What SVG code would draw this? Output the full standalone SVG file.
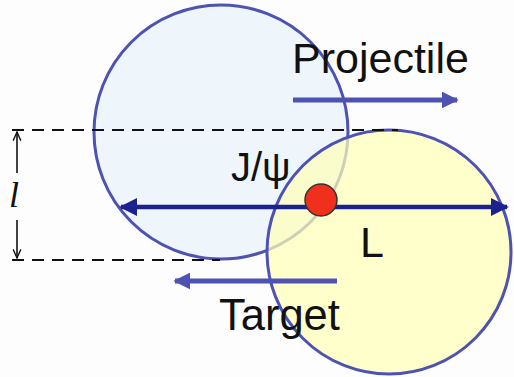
<svg xmlns="http://www.w3.org/2000/svg" width="514" height="377" viewBox="0 0 514 377">
<style>
.txt{font-family:"Liberation Sans",Arial,sans-serif;fill:#111}
.dash{stroke:#111;stroke-width:2;stroke-dasharray:12,8;fill:none}
.ring{stroke:#4d52b3;stroke-width:3}
</style>
<defs>
<marker id="nav" viewBox="0 0 10 10" refX="9" refY="5" markerWidth="4" markerHeight="4" orient="auto-start-reverse" markerUnits="strokeWidth">
<path d="M0,0 L10,5 L0,10 Z" fill="#1c2190"/>
</marker>
<marker id="blu" viewBox="0 0 10 10" refX="9" refY="5" markerWidth="3.4" markerHeight="3.4" orient="auto-start-reverse" markerUnits="strokeWidth">
<path d="M0,0 L10,5 L0,10 Z" fill="#4d52b3"/>
</marker>
<marker id="thin" viewBox="0 0 10 10" refX="9" refY="5" markerWidth="6" markerHeight="8" orient="auto" markerUnits="strokeWidth">
<path d="M0,1 L9,5 L0,9" fill="none" stroke="#111" stroke-width="1.4"/>
</marker>
</defs>
<rect width="514" height="377" fill="#fdfdfd"/>
<g id="projectile">
<circle class="ring" cx="221" cy="132" r="127" fill="#eef5fb"/>
</g>
<g id="target">
<circle class="ring" cx="389" cy="252" r="122" fill="#ffffb8" fill-opacity="0.72"/>
</g>
<g id="connectors">
<line class="dash" x1="12" y1="130" x2="398" y2="130"/>
<line class="dash" x1="12" y1="260" x2="220" y2="260"/>
<line x1="17" y1="173" x2="17" y2="132" stroke="#111" stroke-width="1.6" marker-end="url(#thin)"/>
<line x1="17" y1="220" x2="17" y2="258" stroke="#111" stroke-width="1.6" marker-end="url(#thin)"/>
<line x1="121" y1="207" x2="507" y2="207" stroke="#1c2190" stroke-width="4.5" marker-start="url(#nav)" marker-end="url(#nav)"/>
<line x1="293" y1="100" x2="457" y2="100" stroke="#4d52b3" stroke-width="5" marker-end="url(#blu)"/>
<line x1="337" y1="281" x2="175" y2="281" stroke="#4d52b3" stroke-width="5" marker-end="url(#blu)"/>
</g>
<g id="jpsi">
<circle cx="321" cy="200" r="16" fill="#f0301c" stroke="#333" stroke-width="1.5"/>
<text class="txt" x="231" y="181" font-size="40">J/ψ</text>
</g>
<g id="labels">
<text class="txt" x="292" y="73" font-size="43">Projectile</text>
<text class="txt" x="219" y="330" font-size="43.5">Target</text>
<text class="txt" x="360" y="257" font-size="43">L</text>
<text x="9" y="207" font-size="36" font-style="italic" font-family="'Liberation Serif','Times New Roman',serif" fill="#111">l</text>
</g>
</svg>
